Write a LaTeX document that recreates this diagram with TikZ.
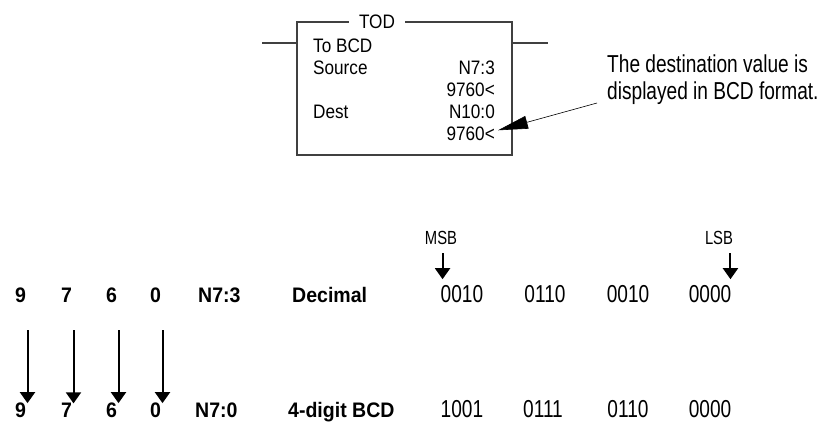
\documentclass[tikz,border=0pt]{standalone}
\usepackage{fontspec}
\setmainfont{Liberation Sans}
\newfontfamily\boxfont{Liberation Sans}[FakeStretch=0.88]
\newfontfamily\bigfont{Liberation Sans}[FakeStretch=0.78]
\newfontfamily\labfont{Liberation Sans}[FakeStretch=0.93]
\usetikzlibrary{arrows.meta,positioning,calc}

\begin{document}
\begin{tikzpicture}[
    x=1pt, y=-1pt,
    boxtext/.style={font=\boxfont\fontsize{19.5}{22}\selectfont, inner sep=0pt},
    bigtext/.style={font=\bigfont\fontsize{24.5}{27}\selectfont, inner sep=0pt},
    marktext/.style={font=\bigfont\fontsize{19}{22}\selectfont, inner sep=0pt, anchor=base},
    labtext/.style={font=\labfont\bfseries\fontsize{21}{24}\selectfont, inner sep=0pt},
    bittext/.style={font=\bigfont\fontsize{24.5}{27}\selectfont, inner sep=0pt, anchor=base},
    rung/.style={line width=1.2pt, draw=black!75},
    arrow/.style={-{Triangle[length=11pt, width=15pt]}, line width=2pt}
]
  \useasboundingbox (0,0) rectangle (830,421);

  % =========================================================================
  % INSTRUCAO TOD
  % =========================================================================
  \node[rung, draw, minimum width=215pt, minimum height=133pt, inner sep=0pt] (n_tod) at (404.5, 88.5) {};
  \coordinate (rail_l) at (262, 43);
  \coordinate (rail_r) at (548, 43);
  \draw[rung] (rail_l) -- (rail_l -| n_tod.west);
  \draw[rung] (n_tod.east |- rail_r) -- (rail_r);

  \node[boxtext, fill=white, inner xsep=10pt, inner ysep=1pt] (n_title) at (377, 22) {TOD};

  \node[boxtext, anchor=base west] (l_op) at (313, 52) {To BCD};
  \node[boxtext, anchor=base west] (l_src) at (313, 74) {Source};
  \node[boxtext, anchor=base east] (v_src) at (495, 74) {N7:3};
  \node[boxtext, anchor=base east] (v_srcval) at (495, 96) {9760<};
  \node[boxtext, anchor=base west] (l_dst) at (313, 118) {Dest};
  \node[boxtext, anchor=base east] (v_dst) at (495, 118) {N10:0};
  \node[boxtext, anchor=base east] (v_dstval) at (495, 140) {9760<};

  % Nota
  \node[bigtext, anchor=base west] (note_a) at (607, 72) {The destination value is};
  \node[bigtext, anchor=base west] (note_b) at (607, 99) {displayed in BCD format.};
  \coordinate (note_tail) at (597, 103);
  \draw[-{Triangle[length=30pt, width=13pt]}, line width=0.6pt] (note_tail) -- ([xshift=3pt, yshift=3pt]v_dstval.east);

  % =========================================================================
  % CONVERSAO DECIMAL -> BCD
  % =========================================================================
  \foreach \d/\x [count=\i] in {9/20.5, 7/66.5, 6/111.5, 0/155.5} {
    \node[labtext, anchor=base] (d_top\i) at (\x, 302) {\d};
    \node[labtext, anchor=base] (d_bot\i) at (\x, 417) {\d};
    \draw[arrow] ([xshift=7pt, yshift=-28pt]d_top\i.south) -- ([xshift=7pt, yshift=-1pt]d_bot\i.north);
  }

  \node[labtext, anchor=base west] (w_top) at (198, 302) {N7:3};
  \node[labtext, anchor=base west] (f_top) at (292, 302) {Decimal};
  \node[labtext, anchor=base west] (w_bot) at (195, 417) {N7:0};
  \node[labtext, anchor=base west] (f_bot) at (288, 417) {4-digit BCD};

  \foreach \b/\x [count=\i] in {0010/462, 0110/545, 0010/628, 0000/710}
    \node[bittext] (tb\i) at (\x, 302) {\b};
  \foreach \b/\x [count=\i] in {1001/462, 0111/543, 0110/628, 0000/710}
    \node[bittext] (bb\i) at (\x, 417) {\b};

  % MSB / LSB
  \node[marktext] (msb) at (441, 244) {MSB};
  \node[marktext] (lsb) at (719, 244) {LSB};
  \draw[arrow] ([xshift=2pt, yshift=-9pt]tb1.north west |- msb.south) -- ([xshift=2pt, yshift=5.5pt]tb1.north west);
  \draw[arrow] ([xshift=-1pt, yshift=-9pt]tb4.north east |- lsb.south) -- ([xshift=-1pt, yshift=5.5pt]tb4.north east);

\end{tikzpicture}
\end{document}
